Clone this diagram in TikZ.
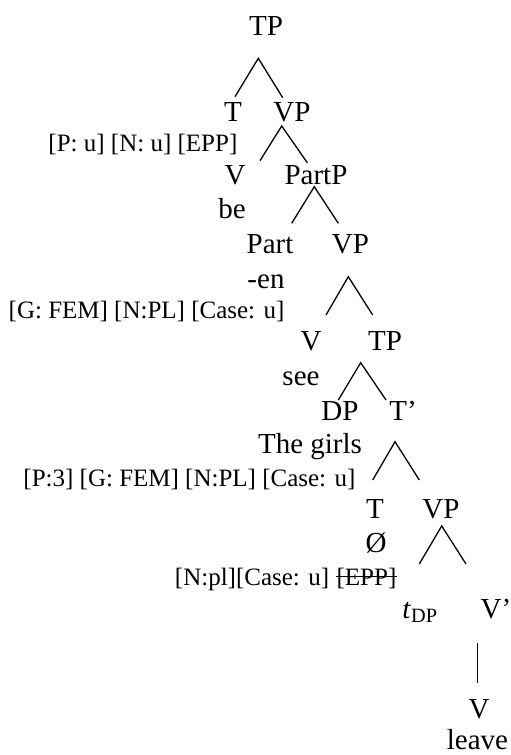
\documentclass[tikz,border=0pt]{standalone}
\usepackage{fontspec}
\setmainfont{Liberation Serif}
\usepackage{tikz}
\newcommand{\labfont}{\fontsize{29}{34}\selectfont}
\newcommand{\featfont}{\fontsize{25}{30}\selectfont}

\begin{document}
\begin{tikzpicture}[x=1pt,y=-1pt,line width=1.3pt,
  lab/.style={anchor=base,inner sep=0pt,font=\labfont},
  feat/.style={anchor=base east,inner sep=0pt,font=\featfont}]
  \useasboundingbox (0,0) rectangle (511,755);
  % category labels
  \node[lab] (tp) at (266,35) {TP};
  \node[lab] (t) at (233,121) {T};
  \node[lab] (vp) at (292,121) {VP};
  \node[lab] (v) at (235,184) {V};
  \node[lab] (partp) at (316,184) {PartP};
  \node[lab] (be) at (232,218) {be};
  \node[lab] (part) at (270,253) {Part};
  \node[lab] (vpb) at (350.5,253) {VP};
  \node[lab] (en) at (266,288) {-en};
  \node[lab] (vb) at (311,350) {V};
  \node[lab] (tpb) at (385,350) {TP};
  \node[lab] (see) at (301,385) {see};
  \node[lab] (dp) at (340,420) {DP};
  \node[lab] (tbar) at (403,420) {T'};
  \node[lab] (girls) at (310,453) {The girls};
  \node[lab] (tc) at (375,518) {T};
  \node[lab] (vpc) at (441,518) {VP};
  \node[lab] (null) at (376,552) {Ø};
  \node[lab] (trace) at (420,618) {\textit{t}\textsubscript{DP}};
  \node[lab,anchor=base west] (vbar) at (480,618) {V'};
  \node[lab] (vd) at (479,718) {V};
  \node[lab] (leave) at (477.5,749) {leave};
  % features
  \node[feat] (tfeat) at (238,151) {[P: u] [N: u] [EPP]};
  \node[feat] (partfeat) at (285,318) {[G: FEM] [N:PL] [Case: u]};
  \node[feat] (dpfeat) at (356,486) {[P:3] [G: FEM] [N:PL] [Case: u]};
  \node[feat] (epp) at (397,585) {[EPP]};
  \node[feat] (nullfeat) at ([xshift=-6.25pt]epp.base west) {[N:pl][Case: u]};
  \draw (epp.base west) ++(0,-8.3) -- ([yshift=8.3pt]epp.base east);
  % branch points
  \coordinate (tp-v) at (258.3,58.3);
  \coordinate (t-top) at (235,96.7);
  \coordinate (vp-top) at (282.7,97.7);
  \coordinate (vp-v) at (281.7,126);
  \coordinate (v-top) at (260,160.7);
  \coordinate (partp-top) at (307.3,162.7);
  \coordinate (partp-v) at (314.3,186.7);
  \coordinate (part-top) at (291.7,223.3);
  \coordinate (vpb-top) at (338.3,223.3);
  \coordinate (vpb-v) at (348.3,276.7);
  \coordinate (vb-top) at (326,315);
  \coordinate (tpb-top) at (372.7,315);
  \coordinate (tpb-v) at (360.7,362.7);
  \coordinate (dp-top) at (338.3,400);
  \coordinate (tbar-top) at (386,400);
  \coordinate (tbar-v) at (395,441.7);
  \coordinate (tc-top) at (372.7,480);
  \coordinate (vpc-top) at (419.3,480);
  \coordinate (vpc-v) at (441.7,526);
  \coordinate (trace-top) at (419.3,564);
  \coordinate (vbar-top) at (466,564);
  \coordinate (vbar-v) at (477.3,643);
  \coordinate (vd-top) at (477.3,682.7);
  % branches
  \draw (t-top) -- (tp-v) -- (vp-top);
  \draw (v-top) -- (vp-v) -- (partp-top);
  \draw (part-top) -- (partp-v) -- (vpb-top);
  \draw (vb-top) -- (vpb-v) -- (tpb-top);
  \draw (dp-top) -- (tpb-v) -- (tbar-top);
  \draw (tc-top) -- (tbar-v) -- (vpc-top);
  \draw (trace-top) -- (vpc-v) -- (vbar-top);
  \draw (vbar-v) -- (vd-top);
\end{tikzpicture}
\end{document}
